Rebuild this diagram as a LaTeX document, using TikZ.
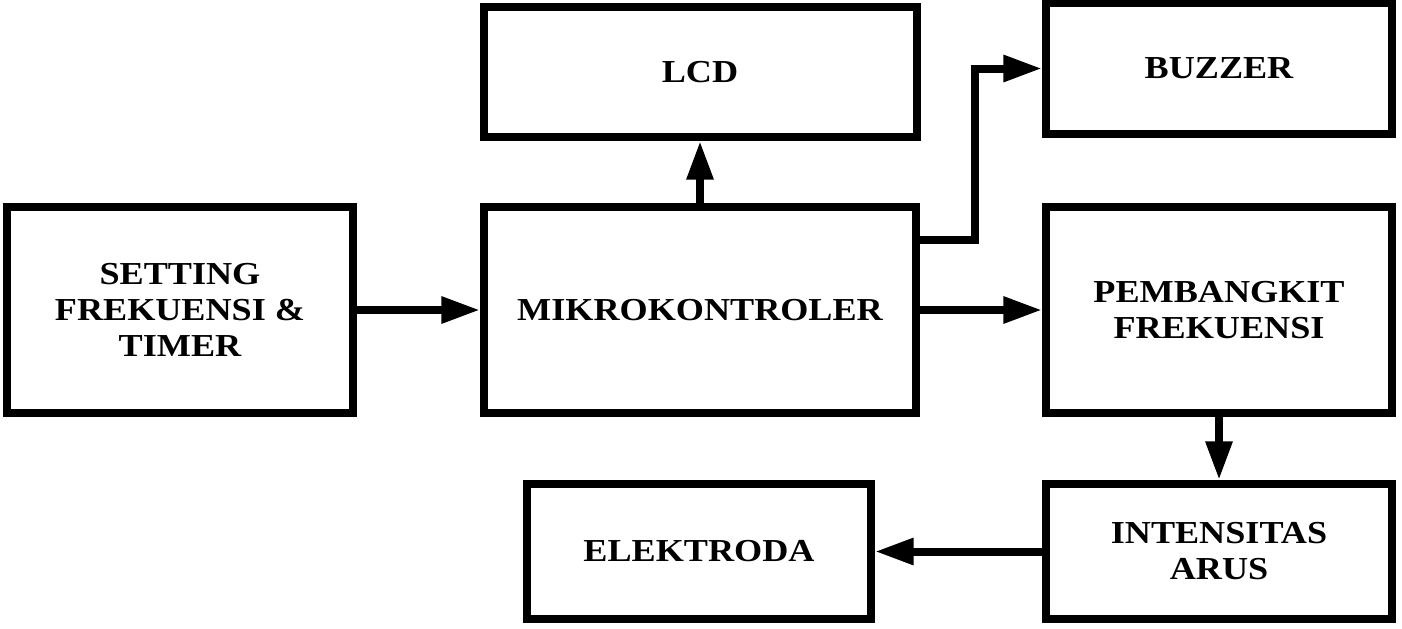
\documentclass[tikz,border=0pt]{standalone}
\usepackage{fontspec}
\newfontfamily\lbl{Liberation Serif}[FakeStretch=1.13]
\usetikzlibrary{arrows.meta}
\begin{document}
\begin{tikzpicture}[x=0.75pt,y=-0.75pt,
  blk/.style={draw,line width=6pt,align=center,inner sep=0pt,
    font=\lbl\bfseries\fontsize{24}{27}\selectfont},
  arr/.style={line width=6pt,-{Triangle[length=29pt,width=19pt]}}]
\useasboundingbox (0,0) rectangle (1402,628);
\node[blk,minimum width={346*0.75pt},minimum height={206*0.75pt}] (set) at (180,310) {SETTING\\FREKUENSI \&\\TIMER};
\node[blk,minimum width={432*0.75pt},minimum height={206*0.75pt}] (mik) at (700,310) {MIKROKONTROLER};
\node[blk,minimum width={433*0.75pt},minimum height={130*0.75pt}] (lcd) at (700,72) {LCD};
\node[blk,minimum width={346*0.75pt},minimum height={131*0.75pt}] (buz) at (1219,68.5) {BUZZER};
\node[blk,minimum width={346*0.75pt},minimum height={206*0.75pt}] (pem) at (1219,310) {PEMBANGKIT\\FREKUENSI};
\node[blk,minimum width={346*0.75pt},minimum height={135*0.75pt}] (int) at (1219,551.5) {INTENSITAS\\ARUS};
\node[blk,minimum width={344*0.75pt},minimum height={135*0.75pt}] (ele) at (699,551.5) {ELEKTRODA};
\coordinate (bz) at (975,240);
\draw[arr] (set) -- (mik);
\draw[arr] (mik) -- (lcd);
\draw[arr] (mik.east |- bz) -- (bz) |- (buz.west);
\draw[arr] (mik) -- (pem);
\draw[arr] (pem) -- (int);
\draw[arr] (int) -- (ele);
\end{tikzpicture}
\end{document}
